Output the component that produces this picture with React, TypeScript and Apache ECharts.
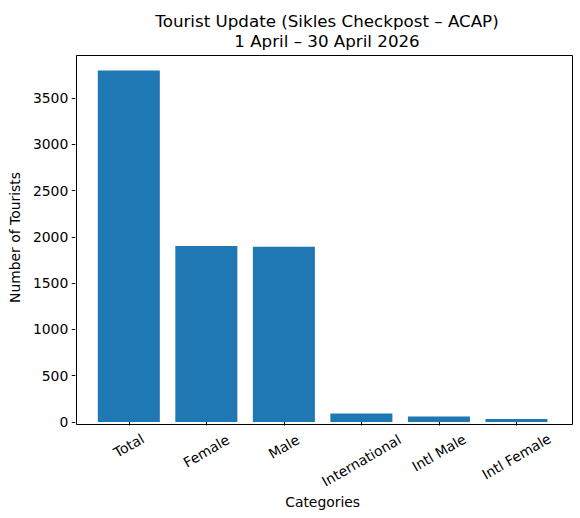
import React, { useEffect, useRef } from "react";
import * as echarts from "echarts";

const categories = ["Total", "Female", "Male", "International", "Intl Male", "Intl Female"];
const tourists = [3796, 1902, 1894, 93, 60, 33];
const yTicks = [0, 500, 1000, 1500, 2000, 2500, 3000, 3500];
// extra downward shift (px) of each rotated label so its centre sits like matplotlib's
const labelShift = [0.5, 6, 1.7, 15.5, 7.7, 11.5];

const FONT = "DejaVu Sans";

export default function App() {
  const ref = useRef<HTMLDivElement>(null);
  useEffect(() => {
    if (!ref.current) return;
    const chart = echarts.init(ref.current, undefined, { renderer: "svg" });
    const rich: Record<string, any> = {};
    labelShift.forEach((d, i) => {
      rich["c" + i] = {
        fontFamily: FONT,
        fontSize: 13.9,
        color: "#000",
        padding: [1.732 * d, d, 0, 0],
      };
    });
    const yMax = Math.max(...tourists) * 1.05;
    // frame spans the matplotlib axes; bars area inset by 0.19 band on both sides
    const frameL = 74, frameR = 570, frameT = 53, frameB = 422;
    const inset = 14.8;
    chart.setOption({
      animation: false,
      backgroundColor: "#fff",
      title: {
        text: "Tourist Update (Sikles Checkpost – ACAP)\n1 April – 30 April 2026",
        left: 322,
        top: 6,
        textAlign: "center",
        textStyle: {
          fontFamily: FONT,
          fontSize: 16.7,
          fontWeight: "normal",
          color: "#000",
          lineHeight: 20,
        },
      },
      grid: {
        left: frameL + inset,
        right: 580 - frameR + inset,
        top: frameT,
        bottom: 518 - frameB,
      },
      graphic: [
        {
          type: "rect",
          left: frameL,
          top: frameT,
          z: 100,
          shape: { width: frameR - frameL, height: frameB - frameT },
          style: { fill: "none", stroke: "#000", lineWidth: 1 },
          silent: true,
        },
      ],
      xAxis: {
        type: "category",
        data: categories,
        boundaryGap: true,
        name: "Categories",
        nameLocation: "middle",
        nameGap: 69,
        nameTextStyle: { fontFamily: FONT, fontSize: 13.9, color: "#000" },
        axisLine: { show: false },
        axisTick: { show: true, alignWithLabel: true, length: 3.5, lineStyle: { color: "#000" } },
        splitLine: { show: false },
        axisLabel: {
          interval: 0,
          rotate: 30,
          margin: 23,
          align: "center",
          verticalAlign: "middle",
          formatter: (v: string) => `{c${categories.indexOf(v)}|${v}}`,
          rich,
          fontFamily: FONT,
          fontSize: 13.9,
          color: "#000",
        },
      },
      yAxis: {
        type: "value",
        min: 0,
        max: yMax,
        offset: inset,
        name: "Number of Tourists",
        nameLocation: "middle",
        nameGap: 52,
        nameTextStyle: { fontFamily: FONT, fontSize: 13.9, color: "#000" },
        axisLine: { show: false, onZero: false },
        axisTick: { show: true, length: 3.5, customValues: yTicks, lineStyle: { color: "#000" } },
        splitLine: { show: false },
        axisLabel: {
          customValues: yTicks,
          margin: 7,
          formatter: (v: number) => String(v),
          fontFamily: FONT,
          fontSize: 13.9,
          color: "#000",
        },
      },
      series: [
        {
          type: "bar",
          data: tourists,
          barWidth: "80%",
          itemStyle: { color: "#1f77b4" },
        },
      ],
    });
    return () => chart.dispose();
  }, []);
  return (
    <div
      ref={ref}
      style={{ position: "absolute", left: 0, top: 0, width: 580, height: 518 }}
    />
  );
}
